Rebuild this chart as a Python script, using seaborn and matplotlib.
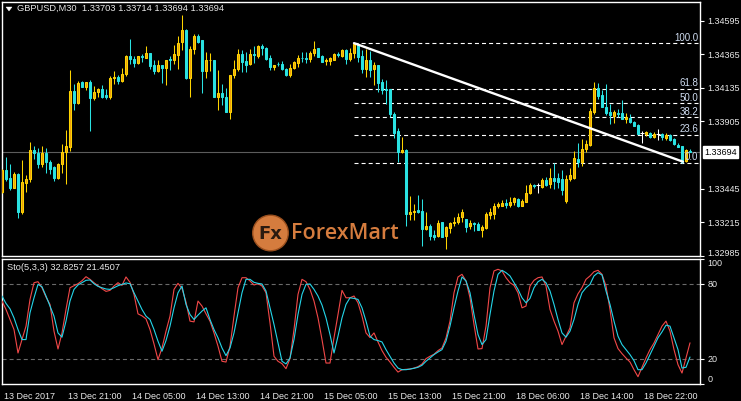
import numpy as np
import pandas as pd
import matplotlib
matplotlib.use("Agg")
import matplotlib.pyplot as plt
import matplotlib.transforms as mtransforms
from matplotlib.patches import Circle, Polygon
import seaborn as sns

# ---------------- data ----------------
opens = [
1.33425,1.33572,1.33516,1.33452,1.33545,1.33288,1.33486,1.33509,1.33707,1.33686,
1.33615,1.33686,1.33629,1.33593,1.33520,1.33615,1.33693,1.33731,1.34111,1.34031,
1.34172,1.34140,1.34177,1.34065,1.34106,1.34125,1.34084,1.34072,1.34200,1.34206,
1.34179,1.34232,1.34355,1.34334,1.34304,1.34350,1.34338,1.34375,1.34288,1.34249,
1.34288,1.34270,1.34329,1.34327,1.34359,1.34447,1.34527,1.34204,1.34402,1.34486,
1.34459,1.34247,1.34322,1.34322,1.34072,1.34102,1.34072,1.33970,1.34225,1.34266,
1.34363,1.34315,1.34300,1.34363,1.34352,1.34418,1.34409,1.34336,1.34276,1.34300,
1.34295,1.34266,1.34225,1.34270,1.34304,1.34341,1.34341,1.34329,1.34372,1.34404,
1.34350,1.34315,1.34317,1.34327,1.34368,1.34352,1.34391,1.34334,1.34375,1.34431,
1.34350,1.34266,1.34327,1.34261,1.34288,1.34174,1.34129,1.34129,1.33952,1.33838,
1.33697,1.33709,1.33271,1.33282,1.33300,1.33295,1.33168,1.33191,1.33130,1.33118,
1.33216,1.33118,1.33175,1.33207,1.33216,1.33254,1.33237,1.33186,1.33213,1.33204,
1.33159,1.33175,1.33266,1.33273,1.33329,1.33329,1.33346,1.33334,1.33350,1.33373,
1.33329,1.33356,1.33414,1.33470,1.33468,1.33455,1.33504,1.33477,1.33516,1.33516,
1.33511,1.33361,1.33508,1.33516,1.33648,1.33629,1.33714,1.33743,1.33970,1.34136,
1.34088,1.34004,1.33966,1.33941,1.33959,1.33963,1.33918,1.33929,1.33902,1.33879,
1.33827,1.33818,1.33823,1.33799,1.33818,1.33818,1.33793,1.33811,1.33784,1.33743,
1.33736,1.33636,1.33703]
highs = [
1.33579,1.33661,1.33613,1.33559,1.33550,1.33641,1.33538,1.33761,1.33736,1.33720,
1.33736,1.33720,1.33641,1.33602,1.33622,1.33748,1.33845,1.34259,1.34163,1.34184,
1.34184,1.34177,1.34186,1.34150,1.34133,1.34157,1.34129,1.34213,1.34247,1.34220,
1.34268,1.34359,1.34466,1.34352,1.34355,1.34368,1.34418,1.34375,1.34322,1.34322,
1.34288,1.34327,1.34350,1.34425,1.34486,1.34636,1.34534,1.34418,1.34505,1.34505,
1.34459,1.34377,1.34375,1.34322,1.34254,1.34163,1.34136,1.34225,1.34327,1.34402,
1.34391,1.34379,1.34402,1.34418,1.34425,1.34436,1.34413,1.34357,1.34293,1.34311,
1.34315,1.34270,1.34300,1.34317,1.34361,1.34379,1.34379,1.34386,1.34452,1.34409,
1.34357,1.34338,1.34345,1.34372,1.34382,1.34397,1.34402,1.34409,1.34440,1.34436,
1.34391,1.34402,1.34386,1.34311,1.34288,1.34193,1.34186,1.34129,1.33970,1.33857,
1.33799,1.33714,1.33395,1.33341,1.33402,1.33373,1.33284,1.33204,1.33164,1.33227,
1.33216,1.33191,1.33220,1.33254,1.33277,1.33305,1.33237,1.33232,1.33218,1.33218,
1.33198,1.33288,1.33311,1.33346,1.33352,1.33368,1.33373,1.33387,1.33391,1.33382,
1.33375,1.33470,1.33486,1.33477,1.33482,1.33516,1.33527,1.33584,1.33622,1.33554,
1.33573,1.33538,1.33586,1.33704,1.33754,1.33784,1.33777,1.33995,1.34174,1.34167,
1.34123,1.34163,1.34027,1.33986,1.33993,1.34054,1.33959,1.33952,1.33906,1.33884,
1.33838,1.33840,1.33833,1.33833,1.33850,1.33827,1.33823,1.33818,1.33788,1.33754,
1.33736,1.33714,1.33714]
lows = [
1.33414,1.33500,1.33436,1.33448,1.33247,1.33271,1.33425,1.33489,1.33650,1.33584,
1.33595,1.33550,1.33543,1.33500,1.33513,1.33550,1.33475,1.33704,1.33986,1.34022,
1.34140,1.34123,1.33840,1.34050,1.34072,1.34065,1.34058,1.34061,1.34159,1.34163,
1.34172,1.34215,1.34300,1.34276,1.34297,1.34309,1.34338,1.34263,1.34227,1.34242,
1.34167,1.34152,1.34254,1.34300,1.34263,1.34395,1.34197,1.34072,1.34368,1.34440,
1.34099,1.34204,1.34249,1.34072,1.33981,1.34015,1.33970,1.33918,1.34204,1.34249,
1.34242,1.34242,1.34293,1.34304,1.34338,1.34357,1.34322,1.34254,1.34254,1.34283,
1.34254,1.34215,1.34208,1.34261,1.34276,1.34311,1.34304,1.34311,1.34350,1.34343,
1.34309,1.34293,1.34293,1.34327,1.34345,1.34345,1.34300,1.34317,1.34336,1.34311,
1.34236,1.34208,1.34208,1.34152,1.34106,1.34090,1.34027,1.33932,1.33793,1.33625,
1.33688,1.33191,1.33232,1.33227,1.33277,1.33055,1.33159,1.33091,1.33091,1.33114,
1.33114,1.33032,1.33141,1.33186,1.33204,1.33220,1.33150,1.33168,1.33157,1.33159,
1.33114,1.33170,1.33239,1.33239,1.33311,1.33327,1.33311,1.33322,1.33334,1.33320,
1.33327,1.33351,1.33407,1.33448,1.33414,1.33448,1.33463,1.33448,1.33441,1.33448,
1.33402,1.33348,1.33498,1.33511,1.33595,1.33600,1.33697,1.33736,1.33954,1.34061,
1.34000,1.33947,1.33886,1.33891,1.33932,1.33920,1.33891,1.33891,1.33872,1.33816,
1.33759,1.33804,1.33788,1.33788,1.33777,1.33777,1.33777,1.33772,1.33743,1.33727,
1.33618,1.33629,1.33694]
closes = [
1.33572,1.33509,1.33452,1.33545,1.33288,1.33489,1.33509,1.33707,1.33686,1.33615,
1.33686,1.33629,1.33581,1.33520,1.33615,1.33693,1.33734,1.34111,1.34031,1.34170,
1.34140,1.34177,1.34065,1.34109,1.34125,1.34072,1.34072,1.34204,1.34206,1.34179,
1.34232,1.34355,1.34331,1.34304,1.34350,1.34343,1.34375,1.34281,1.34249,1.34288,
1.34270,1.34327,1.34325,1.34363,1.34443,1.34527,1.34204,1.34402,1.34486,1.34447,
1.34247,1.34327,1.34327,1.34072,1.34102,1.34072,1.33970,1.34225,1.34266,1.34363,
1.34311,1.34293,1.34363,1.34357,1.34418,1.34409,1.34329,1.34276,1.34293,1.34295,
1.34266,1.34225,1.34270,1.34309,1.34341,1.34336,1.34331,1.34375,1.34402,1.34345,
1.34311,1.34325,1.34336,1.34363,1.34357,1.34391,1.34334,1.34375,1.34436,1.34345,
1.34266,1.34327,1.34254,1.34288,1.34167,1.34123,1.34123,1.33952,1.33827,1.33697,
1.33709,1.33273,1.33288,1.33295,1.33288,1.33170,1.33191,1.33123,1.33114,1.33213,
1.33114,1.33182,1.33209,1.33220,1.33254,1.33284,1.33182,1.33213,1.33204,1.33159,
1.33179,1.33273,1.33288,1.33329,1.33341,1.33346,1.33334,1.33356,1.33380,1.33329,
1.33363,1.33418,1.33470,1.33463,1.33468,1.33504,1.33470,1.33516,1.33500,1.33493,
1.33436,1.33511,1.33538,1.33652,1.33629,1.33716,1.33750,1.33977,1.34136,1.34077,
1.34004,1.33959,1.33947,1.33966,1.33954,1.33920,1.33932,1.33898,1.33874,1.33818,
1.33827,1.33833,1.33799,1.33818,1.33818,1.33799,1.33811,1.33777,1.33748,1.33727,
1.33629,1.33709,1.33694]

stoch_main = [
66.1,59.4,51.4,43.4,24.7,35.4,46.1,67.4,80.7,81.5,
76.7,69.3,63.4,42.1,27.9,40.7,59.4,76.7,78.3,79.9,
82.3,85.5,83.4,80.7,78.3,75.9,73.8,74.6,78.1,80.7,
78.6,85.3,81.0,71.4,55.9,54.3,51.9,43.4,31.9,19.4,
28.7,42.1,54.1,75.4,80.2,76.2,65.3,50.1,49.5,66.1,
62.1,55.9,50.1,40.7,30.1,18.1,17.5,30.1,54.1,76.7,
84.7,84.7,82.1,78.9,79.9,78.1,72.7,48.7,22.1,18.1,
16.2,12.2,20.2,43.4,71.4,83.4,81.5,75.4,66.1,52.7,
35.4,16.7,16.7,36.8,55.4,74.6,68.7,68.7,70.1,64.7,
54.1,40.7,37.0,40.7,33.5,26.6,21.3,17.5,13.3,9.5,
11.4,11.7,11.9,12.7,13.8,15.9,20.2,22.1,23.7,26.6,
28.7,36.7,50.1,72.7,85.3,87.4,82.1,68.7,47.4,27.9,
28.2,46.1,76.7,90.1,91.4,90.1,84.7,80.7,78.6,72.7,
60.7,62.1,78.1,82.6,84.7,85.3,78.1,59.4,50.1,42.1,
31.4,38.1,44.7,64.7,71.9,76.7,83.4,86.1,89.5,90.6,
87.4,78.1,59.4,36.8,28.2,24.2,20.7,17.5,11.4,5.8,
13.3,20.7,27.4,32.7,39.4,46.1,50.1,42.1,27.4,15.4,
8.7,20.7,32.8]
stoch_signal = [
70.1,64.2,59.9,52.7,43.4,35.4,35.4,56.7,68.7,79.4,
77.5,70.1,62.1,54.1,40.7,37.3,50.1,66.1,75.4,78.9,
80.7,82.6,82.9,79.9,77.8,76.7,75.7,75.4,76.7,78.3,
79.4,80.5,79.9,72.7,66.1,59.4,54.1,51.4,43.4,34.1,
26.1,34.6,46.1,60.7,72.7,78.1,63.4,55.4,51.4,54.9,
58.1,60.7,51.4,43.4,36.8,28.7,22.6,28.7,40.7,56.7,
72.7,83.4,83.4,81.0,80.2,79.7,74.1,60.7,47.4,32.7,
18.1,16.0,20.7,35.4,55.4,71.4,79.4,79.7,75.4,70.1,
62.9,52.7,39.4,24.7,38.1,52.7,63.4,68.7,68.2,67.4,
60.7,50.1,38.1,35.4,34.6,33.5,27.4,22.1,16.7,12.7,
11.4,11.4,11.9,12.5,13.3,14.9,18.1,20.7,23.4,25.5,
27.4,34.1,46.1,60.7,74.1,85.3,82.1,72.7,55.4,39.4,
31.4,35.4,55.4,74.1,87.4,90.6,88.7,86.1,80.7,75.4,
68.7,64.7,68.2,76.7,81.5,83.4,80.7,74.1,63.4,51.4,
40.7,37.3,42.1,51.4,63.4,72.7,76.7,79.4,86.1,88.7,
86.9,74.1,63.4,50.1,38.1,31.4,27.4,23.4,18.6,11.4,
11.4,16.7,23.4,30.1,36.8,41.5,46.9,46.1,36.8,27.4,
12.7,13.3,21.5]

time_labels = ["13 Dec 2017", "13 Dec 21:00", "14 Dec 05:00", "14 Dec 13:00",
               "14 Dec 21:00", "15 Dec 05:00", "15 Dec 13:00", "15 Dec 21:00",
               "18 Dec 06:00", "18 Dec 14:00", "18 Dec 22:00"]
time_label_bars = [0, 16, 32, 48, 64, 80, 96, 112, 128, 144, 160]
price_ticks = [1.34595, 1.34365, 1.34135, 1.33905, 1.33445, 1.33215, 1.32985]
last_price = 1.33694
fib_levels = [0.0, 23.6, 38.2, 50.0, 61.8, 100.0]
fib_high = 1.34440
fib_low = 1.33621
fib_start_bar = 88
trend_bars = [88, 170.25]
trend_prices = [1.34440, 1.33629]
stoch_ticks = [0, 20, 80, 100]
stoch_levels = [20, 80]
title_text = "GBPUSD,M30  1.33703 1.33714 1.33694 1.33694"
stoch_text = "Sto(5,3,3) 32.8257 21.4507"

# ---------------- style ----------------
sns.set_style("dark", {"axes.facecolor": "black", "figure.facecolor": "black"})
plt.rcParams["font.family"] = ["Liberation Sans", "DejaVu Sans"]
plt.rcParams["lines.scale_dashes"] = False

BULL_EDGE = "#ffd400"
BULL_FILL = "#eda010"
BEAR = "#2ae2e2"
WHITE = "#ffffff"
TXT = "#e8e8e8"
FIBTXT = "#cfdcf0"
FS = 6.5

W, H = 741, 401
fig = plt.figure(figsize=(W / 100, H / 100), dpi=100, facecolor="black")

def rect(x0, y0, x1, y1):
    return [x0 / W, 1 - y1 / H, (x1 - x0) / W, (y1 - y0) / H]

ax = fig.add_axes(rect(1.5, 1.5, 700, 256))
ax2 = fig.add_axes(rect(1.5, 258.5, 700, 384), sharex=ax)

df = pd.DataFrame({"open": opens, "high": highs, "low": lows, "close": closes})
df["bar"] = np.arange(len(df))
bull = df[df.close > df.open]
bear = df[df.close < df.open]
doji = df[df.close == df.open]

# wicks
wick_colors = np.where(df.close > df.open, BULL_EDGE,
                       np.where(df.close < df.open, BEAR, WHITE))
ax.vlines(df.bar, df.low, df.high, colors=wick_colors, linewidth=0.75, zorder=3)
# bodies
ax.bar(bull.bar, bull.close - bull.open, bottom=bull.open, width=0.5,
       color=BULL_FILL, edgecolor=BULL_EDGE, linewidth=0.75, zorder=4)
ax.bar(bear.bar, bear.open - bear.close, bottom=bear.close, width=0.5,
       color=BEAR, edgecolor=BEAR, linewidth=0.75, zorder=4)
ax.hlines(doji.open, doji.bar - 0.4, doji.bar + 0.4, colors=WHITE, linewidth=0.75, zorder=4)

# current price line
ax.axhline(last_price, color="#5c5c5c", linewidth=0.8, zorder=1)

# fibonacci levels
xr = 174.3
for lv in fib_levels:
    p = fib_low + (fib_high - fib_low) * lv / 100.0
    ax.plot([fib_start_bar, xr], [p, p], color=WHITE, linewidth=0.8,
            dashes=(2.9, 2.2), zorder=2)
    ax.text(xr - 0.3, p + 0.00003, f"{lv:.1f}", color=FIBTXT, fontsize=7,
            ha="right", va="bottom", zorder=6)

# trend line
sns.lineplot(x=trend_bars, y=trend_prices, ax=ax, color=WHITE, linewidth=1.7, zorder=5)

ax.set_xlim(-0.125, 174.5)
ax.set_ylim(1.32984, 1.34725)
ax.yaxis.tick_right()
ax.set_yticks(price_ticks)
ax.set_yticklabels([f"{t:.5f}" for t in price_ticks])
ax.tick_params(axis="y", colors=WHITE, labelcolor=TXT, labelsize=FS, length=3,
               width=0.8, pad=2.5, direction="out")
ax.tick_params(axis="x", bottom=False, labelbottom=False)
up = mtransforms.ScaledTranslation(0, 3 / 100, fig.dpi_scale_trans)
for lbl in ax.get_yticklabels():
    if lbl.get_text() == "1.32985":
        lbl.set_transform(lbl.get_transform() + up)
ax.set_xlabel("")
ax.set_ylabel("")
for s in ax.spines.values():
    s.set_color(WHITE)
    s.set_linewidth(1.0)
ax.grid(False)

# last price label
trans = mtransforms.blended_transform_factory(ax.transAxes, ax.transData)
ax.text(1.006, last_price, f"{last_price:.5f}", transform=trans, color="black",
        fontsize=FS, ha="left", va="center", zorder=10, clip_on=False,
        bbox=dict(boxstyle="square,pad=0.15", fc="white", ec="white"))

# ---------------- stochastic panel ----------------
sdf = pd.DataFrame({"bar": np.arange(len(stoch_main)), "main": stoch_main,
                    "signal": stoch_signal})
sns.lineplot(data=sdf, x="bar", y="main", ax=ax2, color="#f24848", linewidth=0.8, zorder=3)
sns.lineplot(data=sdf, x="bar", y="signal", ax=ax2, color="#24d6ea", linewidth=0.8, zorder=4)
for lv in stoch_levels:
    ax2.axhline(lv, color="#6a6a6a", linewidth=0.8, dashes=(2.9, 2.2), zorder=1)
ax2.set_ylim(0, 100)
ax2.yaxis.tick_right()
ax2.set_yticks(stoch_ticks)
ax2.set_yticklabels([str(t) for t in stoch_ticks])
ax2.tick_params(axis="y", colors=WHITE, labelcolor=TXT, labelsize=FS, length=3,
                width=0.8, pad=2.5)
for lbl in ax2.get_yticklabels():
    if lbl.get_text() == "100":
        lbl.set_va("top")
    elif lbl.get_text() == "0":
        lbl.set_va("bottom")
ax2.set_xticks(time_label_bars)
ax2.set_xticklabels(time_labels)
ax2.tick_params(axis="x", colors=WHITE, labelcolor=TXT, labelsize=FS, length=4,
                width=0.8, pad=1.5, direction="out")
offset = mtransforms.ScaledTranslation(2 / 100, 0, fig.dpi_scale_trans)
for lbl in ax2.get_xticklabels():
    lbl.set_ha("left")
    lbl.set_transform(lbl.get_transform() + offset)
ax2.set_xlabel("")
ax2.set_ylabel("")
for s in ax2.spines.values():
    s.set_color(WHITE)
    s.set_linewidth(1.0)
ax2.grid(False)
ax2.set_xlim(-0.125, 174.5)

# ---------------- texts ----------------
def ftxt(x, y, s, **kw):
    fig.text(x / W, 1 - y / H, s, **kw)

fig.patches.append(Polygon([[6 / W, 1 - 7 / H], [12 / W, 1 - 7 / H], [9 / W, 1 - 11 / H]],
                           closed=True, transform=fig.transFigure, fc=WHITE, ec=WHITE, lw=0.3))
ftxt(17, 8.5, title_text, color=TXT, fontsize=6.7, va="center", ha="left")
ftxt(7, 267.5, stoch_text, color=TXT, fontsize=6.7, va="center", ha="left")

# watermark logo
ORANGE = "#d57c3e"
circ = Circle((270.5 / 100, (H - 233) / 100), 0.178, transform=fig.dpi_scale_trans,
              fc=ORANGE, ec="#9a4f1e", lw=1.0, zorder=20)
fig.patches.append(circ)
ftxt(270.5, 234, "Fx", color="#2b1b10", fontsize=13, fontweight="bold",
     ha="center", va="center", family=["DejaVu Sans"], zorder=21)
ftxt(291, 234, "ForexMart", color=ORANGE, fontsize=15.5, ha="left", va="center",
     family=["Open Sans", "DejaVu Sans"], fontweight="semibold", zorder=21)

fig.savefig("out.png", dpi=100, facecolor="black")
